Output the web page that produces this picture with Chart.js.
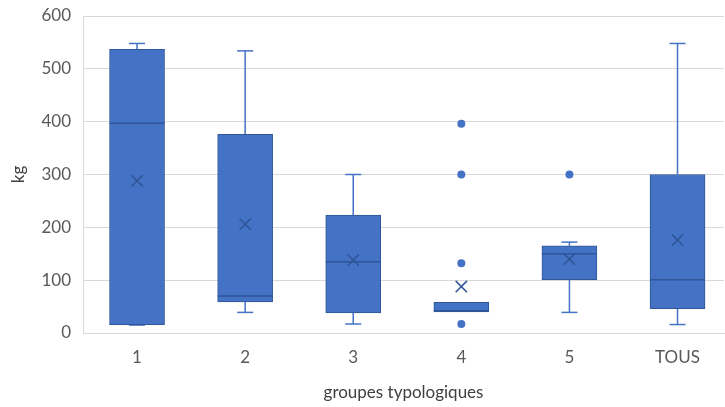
<!DOCTYPE html>
<html>
<head>
<meta charset="utf-8">
<script src="https://cdn.jsdelivr.net/npm/chart.js@4.4.0/dist/chart.umd.min.js"></script>
<style>
html, body { margin: 0; padding: 0; background: #fff; overflow: hidden; }
#wrap { width: 725px; height: 407px; }
</style>
</head>
<body>
<div id="wrap"><canvas id="chart"></canvas></div>
<script>
// Data (kg)
const groups = ['1', '2', '3', '4', '5', 'TOUS'];
const minValues = [15, 39, 17, 40, 39, 16];
const q1Values = [16, 59, 38, 40, 101, 46];
const medianValues = [397, 70, 135, 42, 150, 101];
const q3Values = [537, 376, 223, 58, 165, 300];
const maxValues = [548, 534, 300, 58, 172, 548];
const meanValues = [288, 206, 138, 88, 140, 176];
const outlierValues = [[], [], [], [17, 132, 300, 396], [300], []];
const yTicks = [0, 100, 200, 300, 400, 500, 600];

const boxFill = '#4472C4';
const boxEdge = '#2F5597';
const gridColor = '#d9d9d9';
const textColor = '#595959';
const fontFamily = 'Lato, "Open Sans", sans-serif';

// Whiskers under the boxes, medians on top
const boxExtras = {
    id: 'boxExtras',
    beforeDatasetsDraw(chart) {
        const ctx = chart.ctx;
        const xs = chart.scales.x, ys = chart.scales.y;
        ctx.save();
        ctx.strokeStyle = boxFill;
        ctx.lineWidth = 1.5;
        groups.forEach((g, i) => {
            const x = xs.getPixelForValue(i + 1);
            const segs = [[q3Values[i], maxValues[i]], [minValues[i], q1Values[i]]];
            segs.forEach(([a, b]) => {
                if (a === b) return;
                const ya = ys.getPixelForValue(a), yb = ys.getPixelForValue(b);
                ctx.beginPath();
                ctx.moveTo(x, ya);
                ctx.lineTo(x, yb);
                ctx.stroke();
            });
            [maxValues[i], minValues[i]].forEach((v, k) => {
                if (v === (k === 0 ? q3Values[i] : q1Values[i])) return;
                const y = ys.getPixelForValue(v);
                ctx.beginPath();
                ctx.moveTo(x - 8, y);
                ctx.lineTo(x + 8, y);
                ctx.stroke();
            });
        });
        ctx.restore();
    },
    afterDatasetsDraw(chart) {
        const ctx = chart.ctx;
        const ys = chart.scales.y;
        const bars = chart.getDatasetMeta(2).data;
        ctx.save();
        ctx.strokeStyle = boxEdge;
        ctx.lineWidth = 1.5;
        bars.forEach((bar, i) => {
            const y = ys.getPixelForValue(medianValues[i]);
            ctx.beginPath();
            ctx.moveTo(bar.x - bar.width / 2, y);
            ctx.lineTo(bar.x + bar.width / 2, y);
            ctx.stroke();
        });
        ctx.restore();
    }
};

const outlierPoints = [];
outlierValues.forEach((list, i) => {
    list.forEach(v => outlierPoints.push({ x: i + 1, y: v }));
});

const ctx = document.getElementById('chart').getContext('2d');
const chart = new Chart(ctx, {
    type: 'bar',
    data: {
        datasets: [{
            type: 'scatter',
            label: 'Moyenne',
            data: meanValues.map((v, i) => ({ x: i + 1, y: v })),
            pointStyle: 'crossRot',
            pointRadius: 8,
            borderColor: boxEdge,
            borderWidth: 1.5,
            order: 1
        }, {
            type: 'scatter',
            label: 'Points',
            data: outlierPoints,
            pointStyle: 'circle',
            pointRadius: 4,
            backgroundColor: boxFill,
            borderColor: boxFill,
            borderWidth: 0,
            order: 2
        }, {
            type: 'bar',
            label: 'Boîtes',
            data: q1Values.map((v, i) => ({ x: i + 1, y: [v, q3Values[i]] })),
            backgroundColor: boxFill,
            borderColor: boxEdge,
            borderWidth: 1,
            borderSkipped: false,
            barThickness: 55,
            order: 3
        }]
    },
    options: {
        responsive: true,
        maintainAspectRatio: false,
        animation: false,
        layout: { autoPadding: false, padding: { left: 0, right: 1, top: 16, bottom: 0 } },
        plugins: {
            legend: { display: false },
            tooltip: { enabled: false }
        },
        scales: {
            x: {
                type: 'linear',
                offset: false,
                min: 0.5,
                max: 6.43,
                afterBuildTicks: scale => {
                    scale.ticks = groups.map((g, i) => ({ value: i + 1 }));
                },
                afterFit: scale => { scale.height = 74; },
                grid: { display: false, drawTicks: false },
                border: { color: gridColor, width: 1 },
                ticks: {
                    padding: 14,
                    color: textColor,
                    font: { family: fontFamily, size: 17 },
                    callback: v => groups[v - 1]
                },
                title: {
                    display: true,
                    text: 'groupes typologiques',
                    color: '#404040',
                    font: { family: fontFamily, size: 17 },
                    padding: { top: 0, bottom: 4 }
                }
            },
            y: {
                min: 0,
                max: 600,
                afterBuildTicks: scale => {
                    scale.ticks = yTicks.map(v => ({ value: v }));
                },
                afterFit: scale => {
                    scale.width = 83;
                    scale.paddingTop = 0;
                    scale.paddingBottom = 0;
                },
                grid: { color: gridColor, lineWidth: 1, drawTicks: false },
                border: { color: gridColor, width: 1 },
                ticks: {
                    padding: 12,
                    color: textColor,
                    font: { family: fontFamily, size: 17 }
                },
                title: {
                    display: true,
                    text: 'kg',
                    color: '#404040',
                    font: { family: fontFamily, size: 17 },
                    padding: { top: 8, bottom: 0 }
                }
            }
        }
    },
    plugins: [boxExtras]
});
</script>
</body>
</html>
